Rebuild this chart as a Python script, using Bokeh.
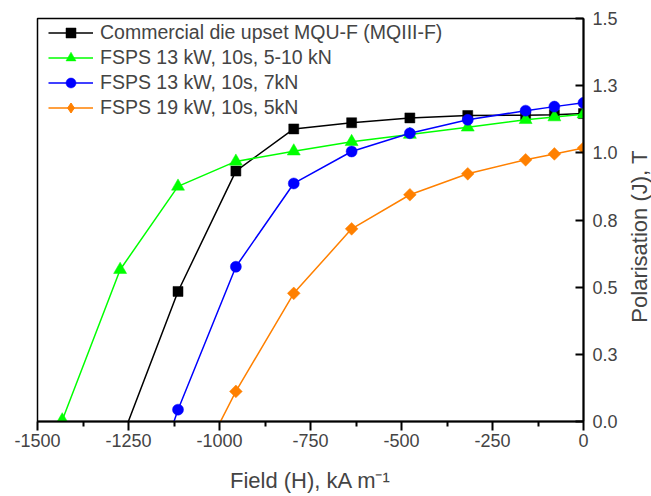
import math
from bokeh.plotting import figure
from bokeh.models import FixedTicker, Range1d, Legend, LegendItem, LinearAxis
from bokeh.embed import file_html
from bokeh.resources import INLINE

# ---- data (kA/m, T) ----
x_commercial = [-1273, -1114, -955, -796, -637, -477, -318, -159, -80, 0]
y_commercial = [-0.08, 0.484, 0.932, 1.089, 1.112, 1.130, 1.139, 1.140, 1.142, 1.146]

x_fsps13_510 = [-1432, -1273, -1114, -955, -796, -637, -477, -318, -159, -80, 0]
y_fsps13_510 = [0.005, 0.565, 0.875, 0.968, 1.006, 1.041, 1.068, 1.095, 1.123, 1.133, 1.144]

x_fsps13_7 = [-1273, -1114, -955, -796, -637, -477, -318, -159, -80, 0]
y_fsps13_7 = [-0.59, 0.044, 0.576, 0.886, 1.005, 1.073, 1.123, 1.157, 1.172, 1.186]

x_fsps19_5 = [-1114, -955, -796, -637, -477, -318, -159, -80, 0]
y_fsps19_5 = [-0.31, 0.112, 0.477, 0.717, 0.844, 0.922, 0.974, 0.996, 1.018]

series_labels = [
    "Commercial die upset MQU-F (MQIII-F)",
    "FSPS 13 kW, 10s, 5-10 kN",
    "FSPS 13 kW, 10s, 7kN",
    "FSPS 19 kW, 10s, 5kN",
]

x_ticks = [-1500, -1250, -1000, -750, -500, -250, 0]
x_tick_labels = ["-1500", "-1250", "-1000", "-750", "-500", "-250", "0"]
x_minor_ticks = [-1375, -1125, -875, -625, -375, -125]
y_ticks = [0.0, 0.25, 0.5, 0.75, 1.0, 1.25, 1.5]
y_tick_labels = ["0.0", "0.3", "0.5", "0.8", "1.0", "1.3", "1.5"]

x_title = "Field (H), kA m\u207b\u00b9"
y_title = "Polarisation (J), T"

FONT = "Liberation Sans"

p = figure(
    frame_width=546, frame_height=403,
    x_range=Range1d(-1500, 0), y_range=Range1d(0, 1.5),
    y_axis_location="right",
    output_backend="svg", toolbar_location=None,
    min_border_left=37, min_border_top=18, min_border_right=5, min_border_bottom=5,
)
p.background_fill_color = "white"
p.border_fill_color = "white"
p.xgrid.visible = False
p.ygrid.visible = False
p.outline_line_color = "black"
p.outline_line_width = 1.5

xa = p.xaxis[0]
xa.ticker = FixedTicker(ticks=x_ticks, minor_ticks=x_minor_ticks)
xa.major_label_overrides = {t: l for t, l in zip(x_ticks, x_tick_labels)}
xa.axis_line_width = 2
xa.major_tick_line_width = 2
xa.minor_tick_line_width = 2
xa.major_tick_in = 0
xa.major_tick_out = 9
xa.minor_tick_in = 0
xa.minor_tick_out = 5
xa.major_label_standoff = 3
xa.major_label_text_font = FONT
xa.major_label_text_font_size = "18px"
xa.axis_label = x_title
xa.axis_label_text_font = FONT
xa.axis_label_text_font_size = "22px"
xa.axis_label_text_font_style = "normal"
xa.axis_label_standoff = 18

ya = p.yaxis[0]
ya.ticker = FixedTicker(ticks=y_ticks, minor_ticks=[])
ya.major_label_overrides = {t: l for t, l in zip(y_ticks, y_tick_labels)}
ya.axis_line_width = 2
ya.major_tick_line_width = 2
ya.major_tick_in = 8
ya.major_tick_out = 0
ya.minor_tick_in = 0
ya.minor_tick_out = 0
ya.major_label_standoff = 9
ya.major_label_text_font = FONT
ya.major_label_text_font_size = "18px"

# y-axis title: drawn as the single (rotated) label of a bare second axis,
# anchored where the title starts so it reads bottom-to-top like the original
title_anchor = 0.368
ya2 = LinearAxis(
    ticker=FixedTicker(ticks=[title_anchor], minor_ticks=[]),
    major_label_overrides={title_anchor: y_title},
    major_label_orientation=math.pi / 2,
    major_label_text_font=FONT, major_label_text_font_size="22px",
    major_label_standoff=19,
    axis_line_alpha=0, major_tick_line_alpha=0, minor_tick_line_alpha=0,
    major_tick_in=0, major_tick_out=0, minor_tick_in=0, minor_tick_out=0,
)
p.add_layout(ya2, "right")

colors = ["black", "#00ff00", "#0000ff", "#ff8000"]
data = [
    (x_commercial, y_commercial, "square", 10, 0.0),
    (x_fsps13_510, y_fsps13_510, "triangle", 13, 0.0),
    (x_fsps13_7, y_fsps13_7, "circle", 11, 0.0),
    (x_fsps19_5, y_fsps19_5, "square", 9, math.pi / 4),
]

items = []
for (xs, ys, mk, sz, ang), c, lab in zip(data, colors, series_labels):
    l = p.line(xs, ys, line_color=c, line_width=1.5)
    s = p.scatter(xs, ys, marker=mk, size=sz, angle=ang, fill_color=c, line_color=c, line_width=0.5)
    rs = [l, s]
    if ang != 0.0:
        # hidden diamond renderer, used only for the legend swatch
        leg = p.scatter(xs, ys, marker="diamond", size=16, fill_color=c, line_color=c, visible=False)
        rs = [l, leg]
    items.append(LegendItem(label=lab, renderers=rs))

legend = Legend(
    items=items, location=(11, 301), orientation="vertical",
    glyph_width=45, glyph_height=25, label_height=25, spacing=0,
    padding=0, margin=0, label_standoff=7,
    label_text_font=FONT, label_text_font_size="19.5px",
    border_line_alpha=0, background_fill_alpha=0,
    inactive_fill_alpha=0,
)
p.add_layout(legend, "center")

open("out.html", "w").write(file_html(p, INLINE))
